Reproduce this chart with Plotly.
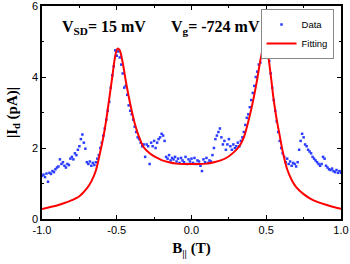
import numpy as np
import plotly.graph_objects as go

# Measured data (B in T, |Id| in pA)
data_B = [round(-1.0 + 0.01 * i, 2) for i in range(201)]
data_I = [
    1.22, 1.25, 1.18, 1.28, 1.05, 1.30, 1.27, 1.35, 1.32, 1.40,
    1.45, 1.48, 1.68, 1.55, 1.60, 1.50, 1.45, 1.55, 1.52, 1.70,
    1.75, 1.68, 1.85, 1.80, 1.95, 2.05, 2.25, 2.38, 2.15, 1.98,
    1.60, 1.55, 1.62, 1.50, 1.58, 1.52, 1.60, 1.70, 1.80, 2.00,
    2.15, 2.35, 2.55, 2.80, 3.05, 3.30, 3.70, 4.05, 4.30, 4.75,
    4.60, 4.72, 4.55, 4.35, 4.10, 3.70, 3.75, 3.50, 3.20, 3.05,
    2.95, 2.80, 2.60, 2.45, 2.30, 2.25, 2.15, 2.05, 2.10, 1.75,
    2.10, 2.05, 1.55, 2.15, 2.05, 2.20, 2.00, 2.15, 2.25, 2.30,
    2.40, 2.35, 2.20, 1.75, 1.70, 1.80, 1.65, 1.72, 1.68, 1.75,
    1.62, 1.70, 1.58, 1.72, 1.65, 1.60, 1.75, 1.55, 1.68, 1.62,
    1.70, 1.58, 1.72, 1.55, 1.65, 1.62, 1.50, 1.35, 1.68, 1.60,
    1.72, 1.58, 1.65, 1.62, 1.80, 2.00, 2.25, 2.35, 2.45, 2.55,
    2.30, 2.10, 2.20, 1.95, 2.10, 2.25, 2.05, 1.95, 2.10, 2.00,
    2.05, 2.15, 2.05, 2.20, 2.30, 2.45, 2.65, 2.85, 2.95, 3.15,
    3.35, 3.55, 3.75, 4.00, 4.15, 4.35, 4.40, 4.55, 4.70, 4.65,
    4.85, 4.70, 4.45, 4.10, 3.70, 3.35, 3.05, 2.75, 2.45, 2.20,
    2.00, 1.85, 1.75, 1.60, 1.70, 1.55, 1.62, 1.50, 1.58, 1.55,
    1.48, 1.60, 1.95, 2.20, 2.40, 2.30, 2.10, 2.05, 1.95, 1.90,
    1.85, 1.75, 1.70, 1.65, 1.60, 1.55, 1.50, 1.55, 1.75, 1.70,
    1.50, 1.45, 1.40, 1.38, 1.42, 1.35, 1.32, 1.38, 1.30, 1.35,
    1.30,
]

# Fitting curve
fit_B = [-1.00, -0.95, -0.90, -0.85, -0.80, -0.75, -0.70, -0.67, -0.64, -0.61,
         -0.59, -0.57, -0.55, -0.53, -0.51, -0.495, -0.48, -0.46, -0.44, -0.42,
         -0.40, -0.38, -0.35, -0.32, -0.28, -0.24, -0.20, -0.15, -0.10, -0.05,
         0.00, 0.05, 0.10, 0.15, 0.20, 0.24, 0.28, 0.32, 0.35, 0.38,
         0.40, 0.42, 0.44, 0.46, 0.48, 0.495, 0.51, 0.53, 0.55, 0.57,
         0.59, 0.61, 0.64, 0.67, 0.70, 0.75, 0.80, 0.85, 0.90, 0.95, 1.00]
fit_I = [0.28, 0.33, 0.38, 0.45, 0.53, 0.64, 0.86, 1.06, 1.36, 1.90,
         2.30, 2.80, 3.40, 4.00, 4.60, 4.80, 4.75, 4.40, 3.90, 3.45,
         3.05, 2.70, 2.30, 2.02, 1.85, 1.74, 1.66, 1.60, 1.56, 1.55,
         1.55, 1.55, 1.56, 1.60, 1.66, 1.74, 1.87, 2.05, 2.30, 2.75,
         3.10, 3.50, 3.95, 4.45, 4.78, 4.80, 4.65, 4.05, 3.35, 2.80,
         2.35, 1.90, 1.40, 1.10, 0.90, 0.70, 0.56, 0.47, 0.40, 0.34, 0.29]

x_ticks = [-1.0, -0.5, 0.0, 0.5, 1.0]
x_tick_labels = ["-1.0", "-0.5", "0.0", "0.5", "1.0"]
y_ticks = [0, 2, 4, 6]

fig = go.Figure()
fig.add_trace(go.Scatter(
    x=data_B, y=data_I, mode="markers", name="Data",
    marker=dict(color="#2a3cff", size=2.5, symbol="square"),
))
fig.add_trace(go.Scatter(
    x=fit_B, y=fit_I, mode="lines", name="Fitting",
    line=dict(color="#ff0000", width=2, shape="spline", smoothing=0.8),
))

axis_common = dict(
    showline=True, linecolor="black", linewidth=1.5, mirror="ticks",
    ticks="inside", ticklen=4, tickwidth=1, tickcolor="black",
    showgrid=False, zeroline=False, automargin=False,
    ticklabeloverflow="allow",
    tickfont=dict(family="Liberation Sans, Arial", size=11, color="black"),
)

fig.update_xaxes(
    range=[-1.0, 1.0], tickvals=x_ticks, ticktext=x_tick_labels,
    minor=dict(ticks="inside", ticklen=2, dtick=0.25, tickcolor="black"),
    title=dict(text="<b>B<sub>||</sub> (T)</b>", standoff=8,
               font=dict(family="Liberation Serif, Times New Roman", size=15, color="black")),
    **axis_common,
)
fig.update_yaxes(
    range=[0, 6], tickvals=y_ticks,
    minor=dict(ticks="inside", ticklen=2, dtick=1, tickcolor="black"),
    title=dict(text="<b>|I<sub>d</sub> (pA)|</b>", standoff=11,
               font=dict(family="Liberation Serif, Times New Roman", size=15, color="black")),
    **axis_common,
)

fig.add_annotation(
    x=0.06, y=0.9, xref="paper", yref="paper", xanchor="left", yanchor="middle",
    text="<b>V<sub>SD</sub>= 15 mV</b>", showarrow=False,
    font=dict(family="Liberation Serif, Times New Roman", size=16, color="black"),
)
fig.add_annotation(
    x=0.425, y=0.9, xref="paper", yref="paper", xanchor="left", yanchor="middle",
    text="<b>V<sub>g</sub>= -724 mV</b>", showarrow=False,
    font=dict(family="Liberation Serif, Times New Roman", size=16, color="black"),
)

fig.update_layout(
    width=350, height=264,
    margin=dict(l=42, r=9, t=6, b=45),
    paper_bgcolor="white", plot_bgcolor="white",
    showlegend=True,
    legend=dict(
        x=0.975, y=0.986, xanchor="right", yanchor="top",
        bgcolor="white", bordercolor="#888888", borderwidth=1,
        font=dict(family="Liberation Sans, Arial", size=9.5, color="black"),
        itemwidth=30, tracegroupgap=0,
    ),
)

fig.write_html(
    "out.html",
    config={"displayModeBar": False},
    post_script="document.body.style.margin='0';document.body.style.overflow='hidden';",
)
